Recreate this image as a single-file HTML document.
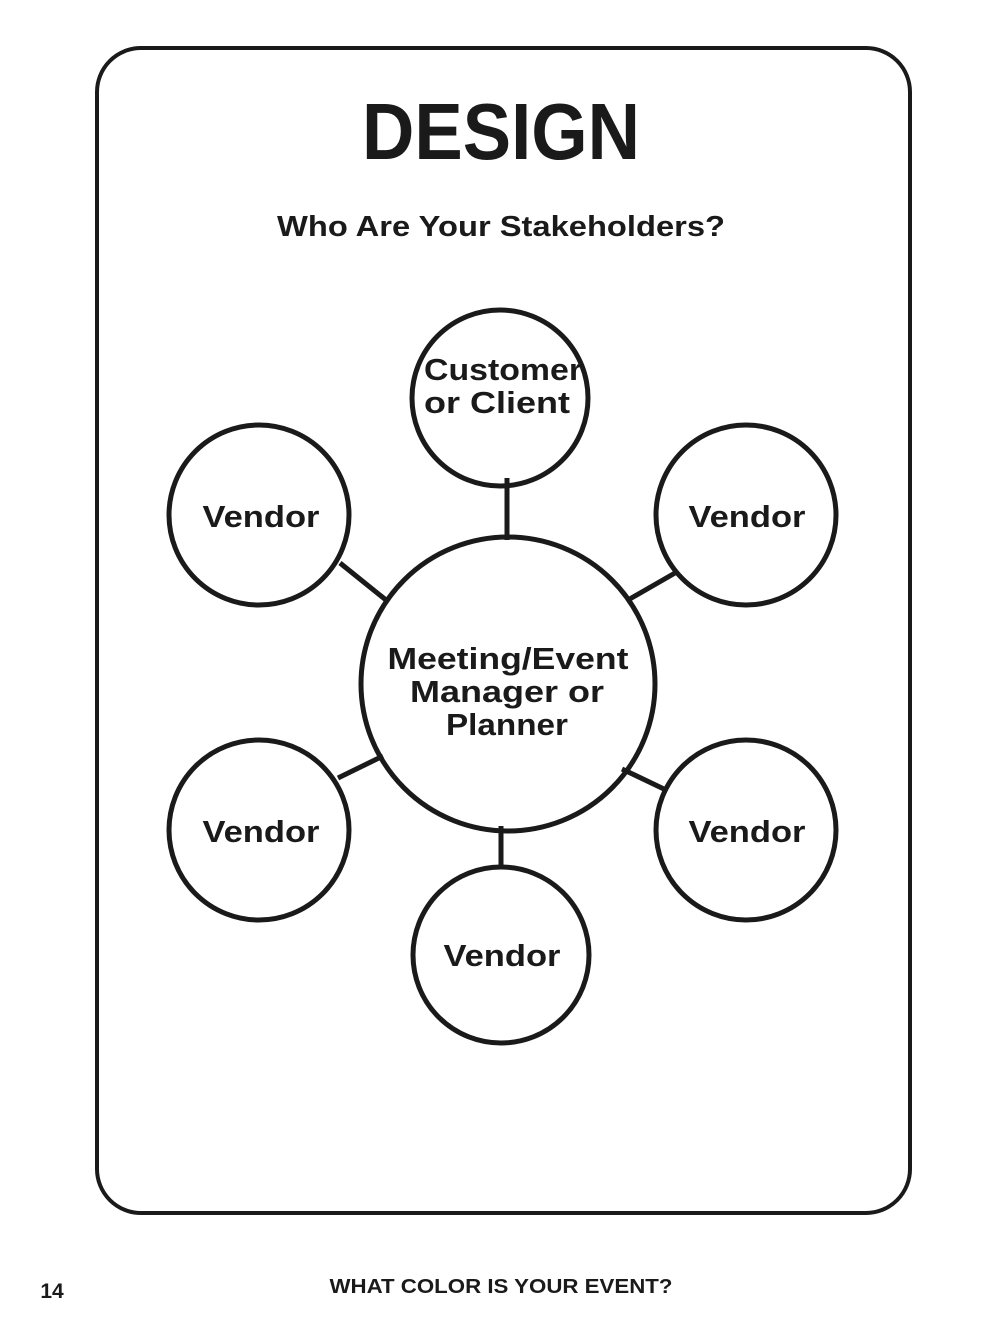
<!DOCTYPE html>
<html><head><style>
html,body{margin:0;padding:0;background:#fff;}
svg{display:block;}
text{font-family:"Liberation Sans",sans-serif;font-weight:bold;fill:#1a1a1a;text-anchor:middle;}
</style></head><body>
<svg width="1000" height="1318" viewBox="0 0 1000 1318">
<rect x="97" y="48" width="813" height="1165" rx="44" fill="none" stroke="#1a1a1a" stroke-width="4"/>
<text x="501" y="159" font-size="80" textLength="278" lengthAdjust="spacingAndGlyphs">DESIGN</text>
<text x="501" y="236" font-size="29" textLength="448" lengthAdjust="spacingAndGlyphs">Who Are Your Stakeholders?</text>
<g stroke="#1a1a1a" stroke-width="5" fill="none">
<line x1="507" y1="478" x2="507" y2="540"/>
<line x1="501" y1="826" x2="501" y2="868"/>
<line x1="340" y1="563" x2="386" y2="600"/>
<line x1="628" y1="600" x2="675" y2="573"/>
<line x1="338" y1="778" x2="383" y2="756"/>
<line x1="622" y1="769" x2="666" y2="790"/>
<circle cx="500" cy="398" r="88"/>
<circle cx="259" cy="515" r="90"/>
<circle cx="746" cy="515" r="90"/>
<circle cx="508" cy="684" r="147"/>
<circle cx="259" cy="830" r="90"/>
<circle cx="746" cy="830" r="90"/>
<circle cx="501" cy="955" r="88"/>
</g>
<g font-size="31">
<text x="503" y="380" textLength="158" lengthAdjust="spacingAndGlyphs">Customer</text>
<text x="497" y="413" textLength="146" lengthAdjust="spacingAndGlyphs">or Client</text>
<text x="261" y="527" textLength="117" lengthAdjust="spacingAndGlyphs">Vendor</text>
<text x="747" y="527" textLength="117" lengthAdjust="spacingAndGlyphs">Vendor</text>
<text x="508" y="669" textLength="241" lengthAdjust="spacingAndGlyphs">Meeting/Event</text>
<text x="507" y="702" textLength="194" lengthAdjust="spacingAndGlyphs">Manager or</text>
<text x="507" y="735" textLength="122" lengthAdjust="spacingAndGlyphs">Planner</text>
<text x="261" y="842" textLength="117" lengthAdjust="spacingAndGlyphs">Vendor</text>
<text x="747" y="842" textLength="117" lengthAdjust="spacingAndGlyphs">Vendor</text>
<text x="502" y="966" textLength="117" lengthAdjust="spacingAndGlyphs">Vendor</text>
</g>
<text x="52" y="1298" font-size="21">14</text>
<text x="501" y="1293" font-size="20" textLength="343" lengthAdjust="spacingAndGlyphs">WHAT COLOR IS YOUR EVENT?</text>
</svg>
</body></html>
